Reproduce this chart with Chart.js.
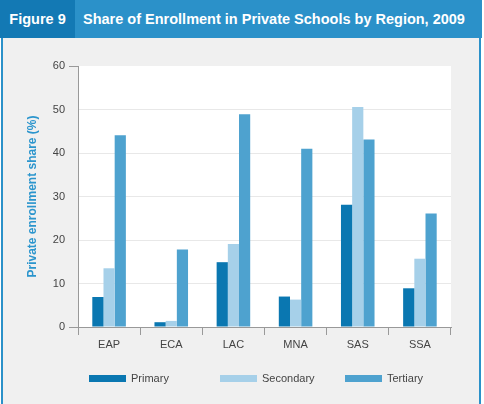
<!DOCTYPE html>
<html>
<head>
<meta charset="utf-8">
<script src="https://cdn.jsdelivr.net/npm/chart.js@4.4.0/dist/chart.umd.min.js"></script>
<style>
    html, body { margin: 0; padding: 0; background: #fff; }
    body { width: 484px; height: 404px; overflow: hidden; position: relative; font-family: "Liberation Sans", Arial, sans-serif; }
    .header { position: absolute; left: 0; top: 0; width: 482px; height: 38px; background: #2b91c9; display: flex; align-items: center; }
    .fig { width: 75px; height: 100%; background: #1379b4; color: #fff; font-weight: bold; font-size: 14.5px; display: flex; align-items: center; justify-content: center; }
    .title { color: #fff; font-weight: bold; font-size: 14.5px; padding-left: 8px; }
    .panel { position: absolute; top: 38px; left: 1px; width: 476px; height: 366px; background: #f0f0f0; border-left: 2px solid #2b91c9; border-right: 2px solid #2b91c9; }
    #wrap { position: absolute; left: 0; top: 0; width: 476px; height: 366px; }
</style>
</head>
<body>
<div class="header"><div class="fig">Figure 9</div><div class="title">Share of Enrollment in Private Schools by Region, 2009</div></div>
<div class="panel"><div id="wrap"><canvas id="enrollChart"></canvas></div></div>
<script>
const regions = ['EAP', 'ECA', 'LAC', 'MNA', 'SAS', 'SSA'];
const primaryShare = [6.9, 1.1, 14.9, 7.0, 28.1, 8.9];
const secondaryShare = [13.5, 1.4, 19.1, 6.3, 50.6, 15.7];
const tertiaryShare = [44.1, 17.8, 48.9, 41.0, 43.1, 26.1];
const yTicks = [0, 10, 20, 30, 40, 50, 60];

// white plot background
const plotBg = {
    id: 'plotBg',
    beforeDraw(chart) {
        const a = chart.chartArea;
        const ctx = chart.ctx;
        ctx.save();
        ctx.fillStyle = '#ffffff';
        ctx.fillRect(a.left, a.top, a.right - a.left, a.bottom - a.top);
        ctx.restore();
    }
};

// legend drawn in fixed columns like the original figure
const legendX = [86, 217, 342];
const columnLegend = {
    id: 'columnLegend',
    afterDraw(chart) {
        const ctx = chart.ctx;
        const y = chart.chartArea.bottom + 48;
        ctx.save();
        ctx.font = '11px "Liberation Sans"';
        ctx.textBaseline = 'middle';
        ctx.textAlign = 'left';
        chart.data.datasets.forEach((ds, i) => {
            ctx.fillStyle = ds.backgroundColor;
            ctx.fillRect(legendX[i], y, 37, 7);
            ctx.fillStyle = '#444';
            ctx.fillText(ds.label, legendX[i] + 42, y + 3.5);
        });
        ctx.restore();
    }
};

const enrollData = {
    labels: regions,
    datasets: [
        { label: 'Primary', data: primaryShare, backgroundColor: '#0a77b1' },
        { label: 'Secondary', data: secondaryShare, backgroundColor: '#a6d0e9' },
        { label: 'Tertiary', data: tertiaryShare, backgroundColor: '#4ea2cf' }
    ]
};

const enrollConfig = {
    type: 'bar',
    data: enrollData,
    plugins: [plotBg, columnLegend],
    options: {
        responsive: true,
        maintainAspectRatio: false,
        animation: false,
        datasets: { bar: { barPercentage: 1, categoryPercentage: 0.54 } },
        layout: { padding: { top: 28, right: 28, left: 0, bottom: 51 } },
        plugins: {
            tooltip: { enabled: false },
            legend: { display: false }
        },
        scales: {
            x: {
                grid: { offset: true, drawOnChartArea: false, color: '#999', tickColor: '#999', tickLength: 8 },
                border: { color: '#999' },
                ticks: { color: '#444', font: { family: 'Liberation Sans', size: 11 }, padding: 3 },
                afterFit(axis) { axis.height = 26; }
            },
            y: {
                min: 0,
                max: 60,
                afterBuildTicks(axis) { axis.ticks = yTicks.map(v => ({ value: v })); },
                grid: {
                    color: ctx => (ctx.tick && (ctx.tick.value === 0 || ctx.tick.value === 60)) ? 'rgba(0,0,0,0)' : '#e8e8e8',
                    tickColor: ctx => (ctx.tick && (ctx.tick.value === 0 || ctx.tick.value === 60)) ? '#999' : 'rgba(0,0,0,0)',
                    tickLength: 9
                },
                border: { color: '#999' },
                ticks: { color: '#444', font: { family: 'Liberation Sans', size: 11 }, padding: 4 },
                title: {
                    display: true,
                    text: 'Private enrollment share (%)',
                    color: '#2b95cd',
                    font: { family: 'Liberation Sans', size: 12, weight: 'bold' },
                    padding: { top: 22, bottom: 0 }
                },
                afterFit(axis) { axis.width = 75; }
            }
        }
    }
};

const enrollCtx = document.getElementById('enrollChart').getContext('2d');
new Chart(enrollCtx, enrollConfig);
</script>
</body>
</html>
